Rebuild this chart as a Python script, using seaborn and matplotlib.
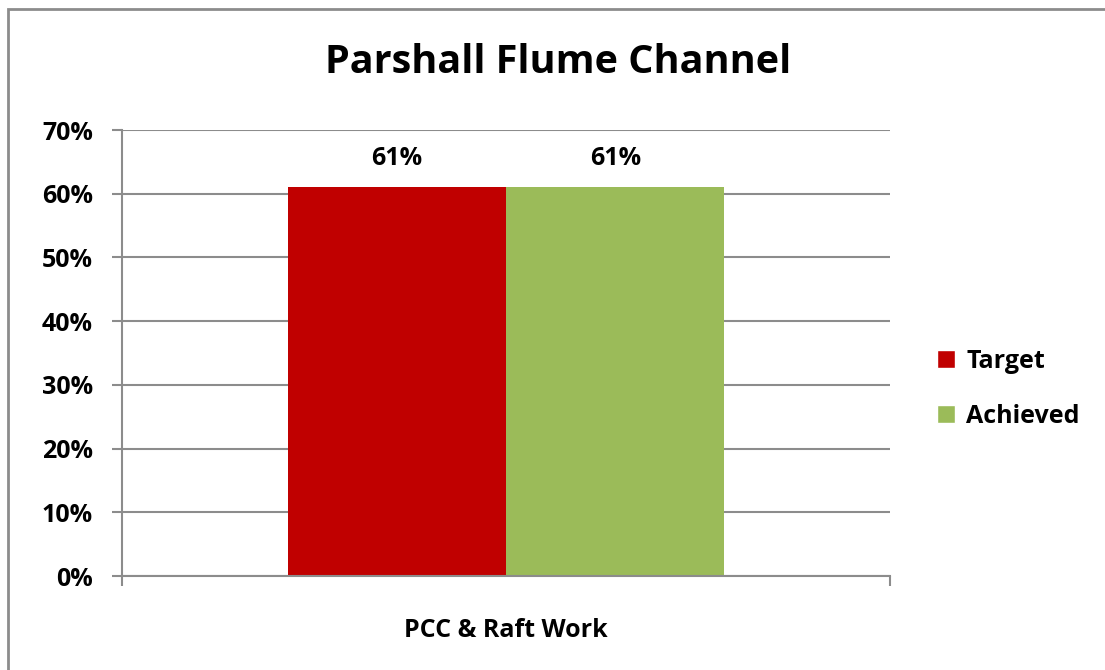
import numpy as np
import pandas as pd
import matplotlib.pyplot as plt
import seaborn as sns
from matplotlib.patches import Rectangle, Patch

categories = ["PCC & Raft Work"]
series = ["Target", "Achieved"]
values = [0.61, 0.61]
colors = ["#C00000", "#9BBB59"]
ytick_labels = ["0%", "10%", "20%", "30%", "40%", "50%", "60%", "70%"]

df = pd.DataFrame({"Work": categories * len(series), "Series": series, "Value": values})

sns.set_style("white")
plt.rcParams["font.family"] = ["Open Sans", "DejaVu Sans"]
plt.rcParams["text.color"] = "black"
plt.rcParams["xtick.color"] = "black"
plt.rcParams["ytick.color"] = "black"

fig = plt.figure(figsize=(11.05, 6.7), dpi=100)
ax = fig.add_axes([122 / 1105, 1 - 576 / 670, 768 / 1105, 446 / 670])

sns.barplot(data=df, x="Work", y="Value", hue="Series", palette=colors,
            width=0.8, saturation=1, ax=ax, legend=False, zorder=2,
            linewidth=0)

# grid and axes
ax.set_ylim(0, 0.70)
ax.set_xlim(-0.703, 0.703)
ax.set_yticks(np.arange(0, 0.71, 0.1))
ax.set_yticklabels(ytick_labels, fontsize=18, fontweight="bold")
ax.yaxis.grid(True, color="#8C8C8C", lw=1.5, zorder=0)
ax.set_axisbelow(True)
for s in ["top", "right"]:
    ax.spines[s].set_visible(False)
for s in ["left", "bottom"]:
    ax.spines[s].set_color("#8C8C8C")
    ax.spines[s].set_linewidth(1.5)
ax.tick_params(axis="y", length=7, width=1.5, color="#8C8C8C", pad=14, left=True,
               labelcolor="black")
ax.set_xticks([-0.703, 0.703], minor=True)
ax.tick_params(axis="x", which="minor", length=7, width=1.5, color="#8C8C8C", bottom=True)
ax.tick_params(axis="x", which="major", length=0, pad=30, labelcolor="black")
ax.set_xticks([0])
ax.set_xticklabels(categories, fontsize=18, fontweight="bold")
ax.set_xlabel("")
ax.set_ylabel("")

# value labels
for c in ax.containers:
    ax.bar_label(c, labels=[f"{v:.0%}" for v in c.datavalues], padding=12,
                 fontsize=18, fontweight="bold", color="black")

fig.text(0.505, 0.906, "Parshall Flume Channel", ha="center", va="center",
         fontsize=28.5, fontweight="bold", color="black")

handles = [Patch(facecolor=col, label=s) for s, col in zip(series, colors)]
leg = fig.legend(handles=handles, loc="center left", bbox_to_anchor=(0.828, 0.42),
                 frameon=False, prop={"weight": "bold", "size": 18},
                 handlelength=0.7, handleheight=0.7, handletextpad=0.45,
                 labelspacing=1.2)
for t in leg.get_texts():
    t.set_color("black")

# outer chart border
fig.patches.append(Rectangle((8 / 1105, -0.1), 1.2, 1 - 9 / 670 + 0.1,
                             transform=fig.transFigure, fill=False,
                             edgecolor="#8C8C8C", lw=2))

fig.savefig("out.png", dpi=100)
